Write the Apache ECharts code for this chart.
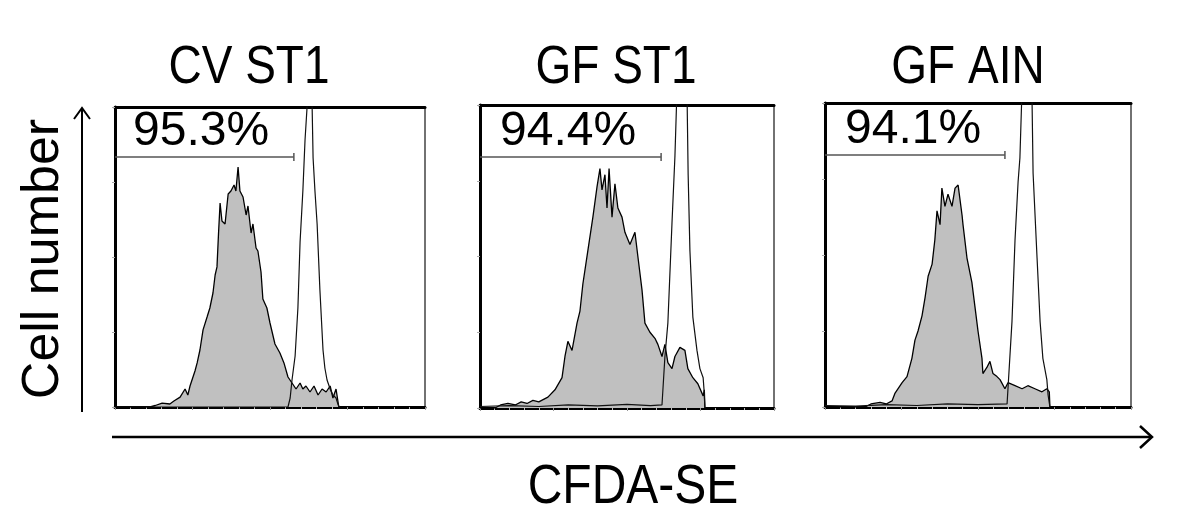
<!DOCTYPE html>
<html>
<head>
<meta charset="utf-8">
<script src="https://cdn.jsdelivr.net/npm/echarts@6/dist/echarts.min.js"></script>
<style>
html,body{margin:0;padding:0;background:#fff;}
#chart{width:1200px;height:520px;}
</style>
</head>
<body>
<div id="chart"></div>
<script>
// ---------- DATA ----------
const panelTitles = ['CV ST1', 'GF ST1', 'GF AIN'];
const gatePct = ['95.3%', '94.4%', '94.1%'];
const gateEndX = [57.7, 61.6, 58.8];
const gateLevelY = [83.3, 82.8, 82.9];
const yAxisTitle = 'Cell number';
const xAxisTitle = 'CFDA-SE';

// CFDA-SE channel (% of axis) vs cell count (% of panel height)
const cvSt1Filled = [[0,0],[11.3,0],[13,0.5],[15.2,1.3],[17.7,1],[19,2],[21,3.3],[22.6,6],[23.5,4],[24.2,7],[25.8,12],[26.5,14.7],[27.4,19],[28.4,25.7],[29.7,30],[30.6,33],[31.6,38],[32.3,44],[32.9,46.7],[33.4,58],[33.9,68],[34.5,62],[35.5,61],[36.5,71],[37.4,72],[38.4,74],[39,72],[39.7,80],[40.3,72],[41.3,70],[42.3,64],[42.9,67],[43.9,58],[44.5,61],[45.5,53],[46.1,52],[47.1,45],[47.7,36],[49,33],[50,28],[51.6,21],[53.2,18],[54.5,14.7],[55.8,10],[57.1,8],[58.4,6],[59.7,8],[60.6,6],[61.6,7],[62.9,5],[64.2,7],[65.5,4],[66.8,6],[68.1,5],[69.4,7],[70.3,3],[71.3,6],[71.9,2],[72.2,0]];
const cvSt1Open = [[0,0],[55.8,0],[56.5,3],[57.1,9],[58.1,17],[59,33],[59.7,55],[60.6,72],[61.3,89],[61.9,99],[62.3,110],[62.9,120],[63.5,105],[63.9,83],[64.5,72],[65.2,61],[66.1,39],[67.1,19],[67.7,13],[68.4,9],[69.4,6],[70.3,4],[71.3,3],[71.9,1],[72.3,0]];

const gfSt1Filled = [[0,0],[5.1,0],[7,1],[9.5,1.5],[12,1],[14,2],[16,1.5],[18,2.5],[20,2],[23.1,3.6],[25.5,6],[27.9,10],[28.9,17],[29.9,22],[31.3,19],[33,28],[34,32],[35,41],[36.7,52],[38.4,63],[39.8,73],[40.8,79],[41.5,72],[42.5,77],[43.2,66],[43.9,79],[44.9,63],[45.9,74],[46.9,66],[48.3,63],[49.3,58],[51,54],[52.7,58],[53.7,50],[55.1,39],[56.1,28],[57.8,25],[59.5,23],[60.5,21],[61.9,17],[62.9,21],[63.9,15],[65.3,13],[66.3,17],[68,20],[69.7,19],[70.7,13],[72.4,10],[74.1,8],[75.9,4],[76.3,6],[76.5,0]];
const gfSt1Open = [[0,0.5],[10,0.8],[20,0.5],[30,1],[40,0.7],[50,1.2],[58,0.8],[61.9,1],[62.9,17],[63.9,28],[65.3,61],[66.3,83],[67,105],[68.7,130],[70.4,105],[70.8,77],[71.4,52],[72.4,30],[73.8,19],[74.8,13],[75.9,10],[76.2,6],[76.5,0]];

const gfAinFilled = [[0,0],[13.1,0],[15,1],[18,1.5],[20,1],[21.9,2],[22.9,4.6],[25.2,8],[26.8,10],[28.4,16],[29.4,22],[30.4,25],[31.7,30],[32.7,36],[33.7,43],[35,47],[35.9,55],[36.6,64.5],[37.6,60],[38.2,72],[39.2,66],[40.2,70],[41.5,66],[42.5,72],[43.5,73],[44.8,63],[45.1,60],[46.4,49],[48,41],[49,33],[50,25],[51.3,16],[51.6,11],[52.9,13],[53.9,15],[54.9,11],[56.2,10],[57.2,9],[58.8,6],[59.8,8],[62.1,7],[64.4,6],[66.3,7],[68.6,6],[70.9,5],[72.5,6],[73.3,5],[73.5,0]];
const gfAinOpen = [[0,0.5],[10,0.3],[20,0.8],[30,0.5],[40,1],[50,0.8],[59.5,1],[61.1,28],[62.1,55],[63.1,74],[63.7,82],[64.4,105],[66,130],[67.6,105],[68,77],[69.3,49],[70.3,28],[71.2,16],[72.5,9],[72.9,4],[73.5,0]];

const filledSets = [cvSt1Filled, gfSt1Filled, gfAinFilled];
const openSets = [cvSt1Open, gfSt1Open, gfAinOpen];

// ---------- LAYOUT ----------
const grids = [
  {left: 115, top: 107, width: 310, height: 300},
  {left: 480, top: 105, width: 294, height: 303},
  {left: 825, top: 103, width: 306, height: 304}
];
const titleX = [249, 616, 968];
const labelPos = [[133, 132], [500, 132], [845, 130]];
const FONT = '"Liberation Sans", Arial, Helvetica, sans-serif';

const chart = echarts.init(document.getElementById('chart'), null, {renderer: 'canvas'});

const option = {
  animation: false,
  backgroundColor: '#fff',
  grid: grids.map(g => Object.assign({show: true, borderColor: '#444', borderWidth: 1.5, backgroundColor: '#fff'}, g)),
  xAxis: [].concat(
    grids.map((g, i) => ({
      type: 'value', gridIndex: i, min: 0, max: 100, interval: 25,
      axisLine: {show: true, onZero: false, lineStyle: {color: '#000', width: 3}},
      axisTick: {show: true, length: 3, lineStyle: {color: '#999', width: 1}},
      minorTick: {show: true, splitNumber: 5, length: 2, lineStyle: {color: '#bbb'}},
      axisLabel: {show: false}, splitLine: {show: false}
    })),
    grids.map((g, i) => ({
      type: 'value', gridIndex: i, min: 0, max: 100, position: 'top',
      axisLine: {show: true, onZero: false, lineStyle: {color: '#000', width: 3}},
      axisTick: {show: false}, axisLabel: {show: false}, splitLine: {show: false}
    }))
  ),
  yAxis: grids.map((g, i) => ({
    type: 'value', gridIndex: i, min: 0, max: 100, interval: 25,
    axisLine: {show: true, onZero: false, lineStyle: {color: '#000', width: 3}},
    axisTick: {show: true, length: 3, lineStyle: {color: '#aaa', width: 1}},
    axisLabel: {show: false}, splitLine: {show: false}
  })),
  series: [].concat(
    filledSets.map((d, i) => ({
      type: 'line', xAxisIndex: i, yAxisIndex: i, data: d, symbol: 'none', clip: true,
      lineStyle: {color: '#000', width: 1.3},
      areaStyle: {color: '#c0c0c0', opacity: 1},
      z: 2
    })),
    openSets.map((d, i) => ({
      type: 'line', xAxisIndex: i, yAxisIndex: i, data: d, symbol: 'none', clip: true,
      lineStyle: {color: '#111', width: 1.2},
      z: 3
    })),
    gateEndX.map((x, i) => ({
      type: 'line', xAxisIndex: i, yAxisIndex: i,
      data: [
        {value: [0, gateLevelY[i]], symbol: 'none'},
        {value: [x, gateLevelY[i]], symbol: 'rect', symbolSize: [1.5, 8]}
      ],
      lineStyle: {color: '#555', width: 1.5},
      itemStyle: {color: '#555'},
      z: 4
    }))
  ),
  graphic: [].concat(
    panelTitles.map((t, i) => ({
      type: 'text', x: titleX[i], y: 68, scaleY: 1.15,
      style: {text: t, font: '46px ' + FONT, fill: '#000', textAlign: 'center', textVerticalAlign: 'middle'}
    })),
    gatePct.map((t, i) => ({
      type: 'text', x: labelPos[i][0], y: labelPos[i][1],
      style: {text: t, font: '48px ' + FONT, fill: '#000', textAlign: 'left', textVerticalAlign: 'middle'}
    })),
    [
      {type: 'text', x: 44, y: 259, rotation: Math.PI / 2,
        style: {text: yAxisTitle, font: '52px ' + FONT, fill: '#000', textAlign: 'center', textVerticalAlign: 'middle'}},
      {type: 'text', x: 633, y: 488, scaleY: 1.15,
        style: {text: xAxisTitle, font: '48px ' + FONT, fill: '#000', textAlign: 'center', textVerticalAlign: 'middle'}},
      // y arrow
      {type: 'line', shape: {x1: 82, y1: 412, x2: 82, y2: 108}, style: {stroke: '#000', lineWidth: 2}},
      {type: 'polyline', shape: {points: [[74, 119], [82, 108], [90, 119]]}, style: {stroke: '#000', lineWidth: 2, fill: null}},
      // x arrow
      {type: 'line', shape: {x1: 112, y1: 437, x2: 1151, y2: 437}, style: {stroke: '#000', lineWidth: 2.5}},
      {type: 'polyline', shape: {points: [[1140, 426], [1152, 437], [1140, 448]]}, style: {stroke: '#000', lineWidth: 2.5, fill: null}}
    ]
  )
};
chart.setOption(option);
</script>
</body>
</html>
